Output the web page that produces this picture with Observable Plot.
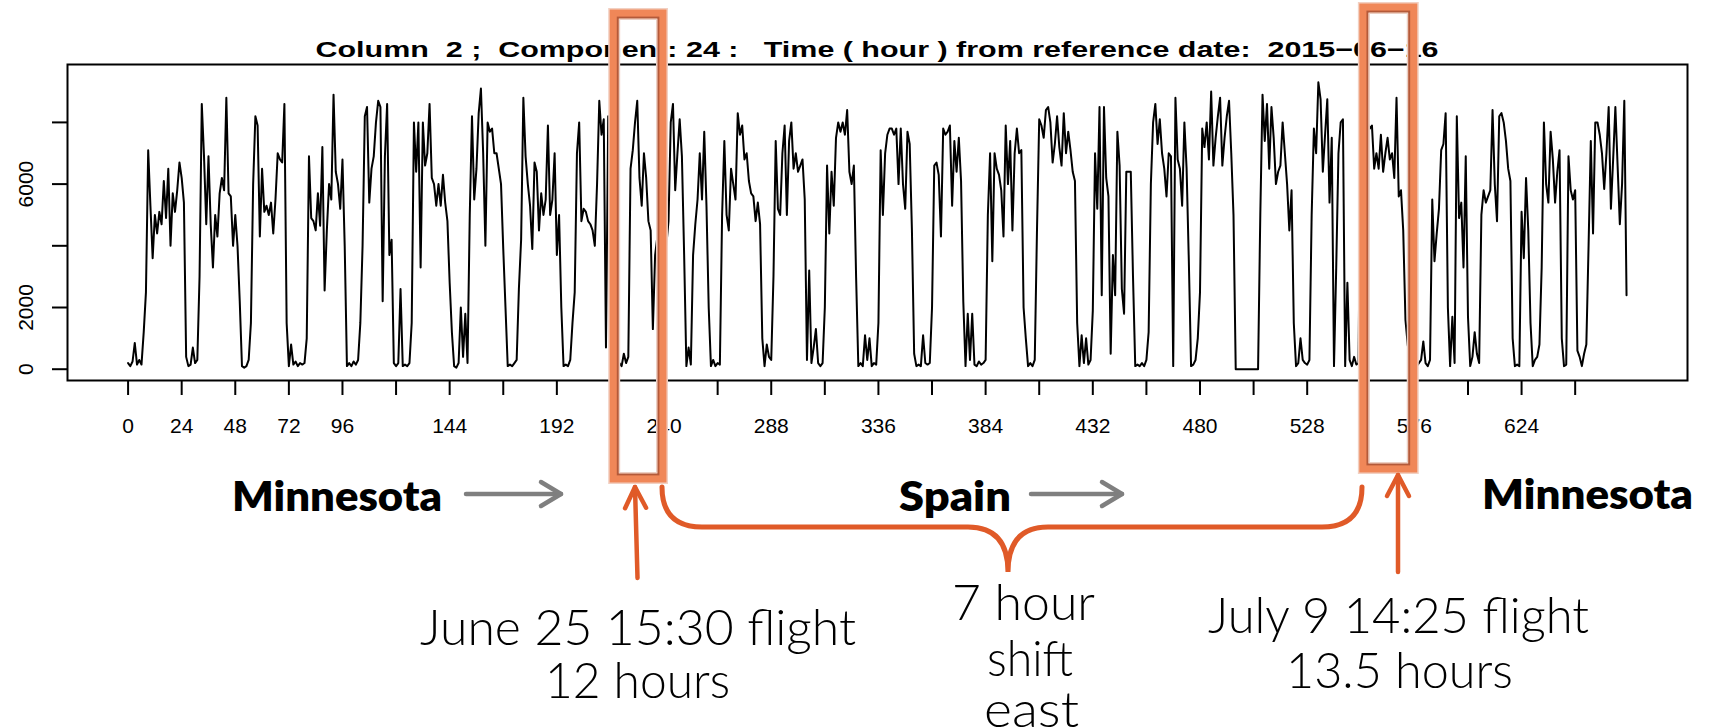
<!DOCTYPE html>
<html>
<head>
<meta charset="utf-8">
<script src="https://cdn.jsdelivr.net/npm/d3@7"></script>
<script src="https://cdn.jsdelivr.net/npm/@observablehq/plot@0.6"></script>
<style>
  html, body { margin: 0; padding: 0; background: #fff; overflow: hidden; }
  #chart svg { display: block; }
</style>
</head>
<body>
<div id="chart"></div>
<script>
// Hourly activity values (hour 0 = 2015-06-16 00:00), one line per day
const activity = [
  200,100,250,850,150,300,150,1200,2500,7100,5300,3600,5000,4400,5100,4700,6100,4900,6500,4000,5700,5100,5800,6700,
  6200,5400,400,100,150,700,200,300,3000,8600,6900,4700,6900,4700,3300,5000,4300,5700,6200,5800,8800,5700,5600,4000,
  5000,4000,2200,100,50,100,300,1500,6000,8200,7900,4300,6500,5100,5300,5000,5400,4400,5500,7000,6800,6700,8600,1500,
  100,800,150,250,100,200,150,200,1000,6900,4900,4800,4500,5700,4650,7200,2550,4500,6000,5500,8900,6400,6000,5200,
  6800,4000,100,200,100,250,150,300,1500,4000,8200,8500,5400,6500,6900,8000,8700,8500,2200,6900,8600,3700,4200,200,
  100,200,2600,100,150,100,200,1500,8000,6400,8000,3300,8000,6600,7000,8600,6200,6000,5300,6000,5300,6300,5400,4800,
  2800,1200,100,50,200,2000,400,1800,200,5000,8200,5500,6500,8300,9100,7000,4000,8000,7700,7800,7000,7000,6500,6000,
  3900,2000,100,150,100,200,300,2600,4200,8800,6900,6000,5300,3900,6700,6400,4500,5700,5000,5500,7900,5000,5500,7000,
  3700,5000,2000,100,150,100,300,1500,2500,7000,8000,4800,5200,5100,4800,4700,4500,4000,6000,8700,7600,8100,700,8200,
  7000,2000,300,100,200,100,500,200,400,6500,7100,8000,8700,6200,5300,7000,6200,4800,4500,1300,3700,4300,6500,8700,
  7500,4000,4800,8000,8600,5800,7000,8100,6900,3700,100,700,150,3700,4700,5500,7000,5500,7700,5300,2000,100,300,100,
  200,150,5000,7400,5000,4500,6500,6000,5500,8300,7600,7900,6800,7000,6100,5700,5600,4800,5400,4700,1000,100,800,400,
  300,3000,7400,5200,5000,7000,7900,5000,7400,8000,6500,7000,6400,6600,6800,5500,300,3200,200,700,1300,200,100,200,
  2000,6600,4400,6400,5300,7500,8000,7700,8000,7600,8400,6400,6000,6600,3000,100,200,100,1100,300,1000,100,200,150,
  1500,7100,5000,7000,7600,7800,7800,7600,7800,6000,7800,6000,5200,7700,7300,4500,500,100,150,100,1100,200,150,200,
  2000,6600,6700,6300,4300,7800,7600,7700,7900,5300,7400,6400,7500,6100,2200,100,1800,300,1800,150,100,250,150,200,
  300,5000,7000,3500,7000,6500,6300,5800,4300,7900,6000,7400,4500,7000,7800,7000,7100,2000,1000,100,200,100,300,4500,
  8100,7900,7500,8400,8500,8000,6700,7300,8200,7200,6600,8300,7000,7700,7100,6400,6100,1500,100,1100,200,1000,150,300,
  1900,7000,5200,8500,2400,8500,6200,5600,500,3700,2400,7700,6600,2600,1800,6400,6400,6400,3000,100,150,100,200,100,
  300,1200,6000,8000,8600,7300,8100,7000,6500,5600,7000,6900,100,8800,6800,6500,5300,8000,6500,3500,100,150,300,1000,
  2500,7800,7200,8000,6800,9000,6600,7500,8200,8800,6600,7500,8200,8700,7000,5000,0,0,0,0,0,0,0,0,
  0,0,0,5000,8900,7400,8600,6500,8500,7500,6000,6400,6600,8000,7000,6000,4500,5800,1500,100,200,1000,300,200,
  150,300,5000,7800,7000,9300,8750,6400,7600,8750,5400,7500,100,3300,7000,8000,8100,100,2800,300,100,400,150,200,
  8900,7000,7500,8000,7800,7900,6500,7000,6500,7600,6400,7000,7500,6800,7000,6200,8800,5600,5800,4500,1600,800,300,150,
  200,100,200,300,900,200,100,300,5500,3500,4400,5200,7100,7300,8300,2000,100,1700,200,8200,4900,5400,3300,6900,
  1700,100,400,1200,500,200,5000,5800,5400,5600,5800,8400,6000,4800,8200,8300,8000,7400,6500,6100,1000,100,150,100,
  5100,3600,6200,4500,1500,100,300,400,800,3300,8000,6000,5400,7700,6800,5400,6400,7100,1000,100,150,6900,5800,5500,
  5800,600,400,100,500,800,4000,7400,4400,8000,8000,7600,7000,5840,7000,8500,5200,6800,8500,6600,4700,6000,8700,2400
];

const xTicks = [0,24,48,72,96,120,144,168,192,216,240,264,288,312,336,360,384,408,432,456,480,504,528,552,576,600,624,648];
const xTickLabels = [0,24,48,72,96,144,192,240,288,336,384,432,480,528,576,624];
const yTicks = [0,2000,4000,6000,8000];
const yTickLabels = [0,2000,6000];

const titleText = "Column  2 ;  Component: 24 :   Time ( hour ) from reference date:  2015\u221206\u221216";
// flight windows highlighted (hours)
const flightWindows = [[217.9, 239.3], [553.6, 575.5]];

const rFont = "'Liberation Sans', Arial, Helvetica, sans-serif";
const slideFont = "Lato, 'Open Sans', 'DejaVu Sans', sans-serif";

const data = activity.map((v, h) => ({h, v}));

const chart = Plot.plot({
  width: 1709,
  height: 728,
  marginLeft: 67,
  marginRight: 22,
  marginTop: 64,
  marginBottom: 348,
  style: {fontFamily: rFont, fontSize: "21px", background: "white", color: "black"},
  x: {domain: [-27.13, 698.3]},
  y: {domain: [-366, 9877]},
  marks: [
    Plot.line(data, {x: "h", y: "v", stroke: "black", strokeWidth: 2, strokeLinejoin: "round"}),
    Plot.frame({stroke: "black", strokeWidth: 2}),
    Plot.axisX(xTicks, {
      anchor: "bottom", tickSize: 15, tickPadding: 23, strokeWidth: 2, fontSize: 21,
      tickFormat: d => xTickLabels.includes(d) ? String(d) : "", label: null
    }),
    Plot.axisY(yTicks, {anchor: "left", tickSize: 15, strokeWidth: 2, tickFormat: () => "", label: null}),
    Plot.text(yTickLabels, {
      y: d => d, text: d => String(d), frameAnchor: "left", dx: -35, rotate: -90,
      textAnchor: "middle", lineAnchor: "bottom", fontSize: 21, fill: "black"
    })
  ]
});
document.getElementById("chart").appendChild(chart);

const svg = d3.select(chart);
const xs = chart.scale("x");
const ann = svg.append("g").attr("text-anchor", "start");

// title
ann.append("text")
  .attr("x", 877).attr("y", 57)
  .attr("text-anchor", "middle")
  .attr("textLength", 1123).attr("lengthAdjust", "spacingAndGlyphs")
  .style("white-space", "pre")
  .style("font-family", rFont).style("font-weight", "bold").style("font-size", "22px")
  .attr("fill", "black")
  .text(titleText);

// flight boxes
const boxY = [[14, 478], [8, 468]];
flightWindows.forEach(([a, b], i) => {
  const x0 = xs.apply(a), x1 = xs.apply(b);
  const [y0, y1] = boxY[i];
  const layer = (inset, color, w) => ann.append("rect")
    .attr("x", x0 + inset).attr("y", y0 + inset)
    .attr("width", x1 - x0 - 2 * inset).attr("height", y1 - y0 - 2 * inset)
    .attr("fill", "none").attr("stroke", color).attr("stroke-width", w);
  layer(0, "#f2d0c2", 12);
  layer(0, "#f08758", 9);
  layer(3.6, "#b45a3a", 2);
  layer(5.2, "#e9cfc5", 1.2);
});

// arrows
function arrow(x1, y1, x2, y2, color, w, back, half) {
  const ang = Math.atan2(y2 - y1, x2 - x1);
  const c = Math.cos(ang), s = Math.sin(ang);
  const ax = x2 - back * c, ay = y2 - back * s;
  const p1 = [ax - half * s, ay + half * c], p2 = [ax + half * s, ay - half * c];
  ann.append("line").attr("x1", x1).attr("y1", y1).attr("x2", x2).attr("y2", y2)
    .attr("stroke", color).attr("stroke-width", w).attr("stroke-linecap", "round");
  ann.append("path").attr("d", `M${p1[0]},${p1[1]}L${x2},${y2}L${p2[0]},${p2[1]}`)
    .attr("fill", "none").attr("stroke", color).attr("stroke-width", w)
    .attr("stroke-linecap", "round").attr("stroke-linejoin", "round");
}
const gray = "#7f7f7f", orange = "#e05a28";
arrow(466, 494, 561, 494, gray, 4.5, 20, 12);
arrow(1031, 494, 1122, 494, gray, 4.5, 20, 12);
arrow(637.5, 578, 635, 487, orange, 4.5, 21, 10.5);
arrow(1398, 572, 1398, 475, orange, 4.5, 21, 11);

// brace
ann.append("path")
  .attr("d", "M662,487 Q662,527 702,527 L968,527 Q1008,527 1008,572 Q1008,527 1048,527 L1322,527 Q1362,527 1362,487")
  .attr("fill", "none").attr("stroke", orange).attr("stroke-width", 5).attr("stroke-linecap", "round");

// slide texts
function label(str, x, y, width, size, weight) {
  ann.append("text").attr("x", x).attr("y", y)
    .attr("text-anchor", "start")
    .attr("textLength", width).attr("lengthAdjust", "spacingAndGlyphs")
    .style("font-family", slideFont).style("font-size", size + "px").style("font-weight", weight)
    .attr("fill", "black").text(str);
}
label("Minnesota", 232, 511, 210, 42, 800);
label("Spain", 899, 511, 112, 42, 800);
label("Minnesota", 1482, 509, 211, 42, 800);
label("June 25 15:30 flight", 420, 645, 436, 50, 300);
label("12 hours", 545, 698, 185, 50, 300);
label("7 hour", 952, 620, 143, 50, 300);
label("shift", 987, 676, 86, 50, 300);
label("east", 984, 727, 95, 50, 300);
label("July 9 14:25 flight", 1208, 633, 381, 50, 300);
label("13.5 hours", 1286, 688, 227, 50, 300);
</script>
</body>
</html>
